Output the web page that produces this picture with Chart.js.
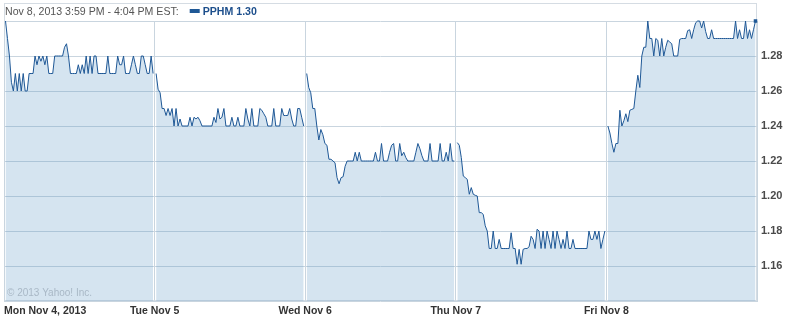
<!DOCTYPE html>
<html>
<head>
<meta charset="utf-8">
<script src="https://cdn.jsdelivr.net/npm/chart.js@4.4.1/dist/chart.umd.min.js"></script>
<style>
  html, body { margin: 0; padding: 0; background: #fff; }
  #wrap { width: 803px; height: 316px; position: relative; }
</style>
</head>
<body>
<div id="wrap"><canvas id="quoteChart"></canvas></div>
<script>
// PPHM intraday, 5 trading days (5-min samples)
const dayLabels = ['Mon Nov 4, 2013', 'Tue Nov 5', 'Wed Nov 6', 'Thu Nov 7', 'Fri Nov 8'];

const mon = [
  1.30, 1.29, 1.28, 1.265, 1.26, 1.27, 1.26, 1.27, 1.26, 1.27,
  1.26, 1.26, 1.27, 1.27, 1.27, 1.28, 1.275, 1.28, 1.277, 1.28,
  1.275, 1.28, 1.27, 1.27, 1.27, 1.28, 1.28, 1.28, 1.28, 1.28,
  1.285, 1.287, 1.28, 1.27, 1.27, 1.27, 1.27, 1.275, 1.27, 1.275,
  1.27, 1.28, 1.27, 1.28, 1.27, 1.28, 1.28, 1.27, 1.27, 1.27,
  1.27, 1.27, 1.28, 1.27, 1.27, 1.27, 1.27, 1.28, 1.275, 1.275,
  1.28, 1.27, 1.27, 1.27, 1.275, 1.28, 1.275, 1.27, 1.27, 1.28,
  1.28, 1.275, 1.27, 1.27, 1.28, 1.27
];
const tue = [
  1.27, 1.261, 1.259, 1.25, 1.25, 1.246, 1.25, 1.246, 1.25, 1.24,
  1.25, 1.24, 1.244, 1.24, 1.24, 1.24, 1.24, 1.245, 1.24, 1.245,
  1.244, 1.245, 1.243, 1.24, 1.24, 1.24, 1.24, 1.24, 1.24, 1.245,
  1.242, 1.25, 1.244, 1.245, 1.25, 1.24, 1.24, 1.24, 1.245, 1.24,
  1.24, 1.245, 1.24, 1.24, 1.24, 1.25, 1.244, 1.24, 1.25, 1.24,
  1.24, 1.24, 1.25, 1.249, 1.247, 1.245, 1.24, 1.24, 1.24, 1.25,
  1.24, 1.24, 1.24, 1.25, 1.246, 1.246, 1.246, 1.25, 1.244, 1.24,
  1.24, 1.25, 1.25, 1.245, 1.24
];
const wed = [
  1.27, 1.262, 1.259, 1.25, 1.25, 1.24, 1.232, 1.238, 1.235, 1.23,
  1.229, 1.221, 1.221, 1.22, 1.219, 1.2105, 1.207, 1.2105, 1.211, 1.217,
  1.22, 1.22, 1.22, 1.22, 1.225, 1.22, 1.225, 1.22, 1.22, 1.22,
  1.22, 1.22, 1.22, 1.22, 1.225, 1.22, 1.22, 1.23, 1.22, 1.22,
  1.22, 1.225, 1.229, 1.23, 1.22, 1.22, 1.23, 1.223, 1.225, 1.222,
  1.22, 1.22, 1.22, 1.22, 1.225, 1.23, 1.227, 1.223, 1.22, 1.22,
  1.22, 1.23, 1.22, 1.22, 1.22, 1.22, 1.23, 1.22, 1.22, 1.225,
  1.22, 1.23, 1.22, 1.22
];
const thu = [
  1.2305, 1.229, 1.222, 1.2114, 1.2105, 1.2095, 1.201, 1.2048, 1.201, 1.2004,
  1.20, 1.1905, 1.1905, 1.1895, 1.183, 1.18, 1.17, 1.17, 1.18, 1.17,
  1.17, 1.1752, 1.17, 1.17, 1.17, 1.17, 1.17, 1.179, 1.17, 1.17,
  1.161, 1.1695, 1.161, 1.1695, 1.17, 1.17, 1.171, 1.177, 1.1752, 1.17,
  1.181, 1.18, 1.17, 1.18, 1.17, 1.18, 1.1752, 1.17, 1.18, 1.17,
  1.18, 1.1752, 1.17, 1.1752, 1.17, 1.18, 1.17, 1.17, 1.1752, 1.17,
  1.17, 1.17, 1.17, 1.17, 1.17, 1.17, 1.18, 1.1752, 1.1752, 1.18,
  1.1752, 1.18, 1.17, 1.1752, 1.18
];
const fri = [
  1.24, 1.236, 1.23, 1.225, 1.23, 1.23, 1.249, 1.24, 1.243, 1.247,
  1.2425, 1.249, 1.2495, 1.25, 1.26, 1.269, 1.262, 1.28, 1.285, 1.285,
  1.30, 1.29, 1.29, 1.28, 1.29, 1.289, 1.28, 1.29, 1.28, 1.285,
  1.289, 1.288, 1.287, 1.28, 1.28, 1.28, 1.2895, 1.29, 1.29, 1.29,
  1.2945, 1.295, 1.29, 1.295, 1.299, 1.30, 1.30, 1.296, 1.30, 1.294,
  1.29, 1.29, 1.295, 1.29, 1.29, 1.29, 1.29, 1.29, 1.29, 1.29,
  1.29, 1.29, 1.29, 1.29, 1.30, 1.29, 1.295, 1.29, 1.29, 1.30,
  1.29, 1.295, 1.29, 1.295, 1.30
];

const yTicks = [1.14, 1.16, 1.18, 1.20, 1.22, 1.24, 1.26, 1.28, 1.30];
const symbol = 'PPHM';
const quoteTime = 'Nov 8, 2013 3:59 PM - 4:04 PM EST:';

const lineColor = '#1f5896';
const gridColor = '#c9d5df';
const fontFamily = '"Liberation Sans", Arial, sans-serif';

// each trading day sits in its own unit on the x axis
function toPoints(values, day) {
  return values.map((v, i) => ({ x: day + 0.01 + i * 0.98 / (values.length - 1), y: v }));
}

const allDays = [mon, tue, wed, thu, fri];
const lastPrice = fri[fri.length - 1];

const datasets = allDays.map((vals, d) => ({
  data: toPoints(vals, d),
  borderColor: lineColor,
  borderWidth: 1,
  backgroundColor: 'rgba(100,155,200,0.27)',
  fill: 'start',
  tension: 0,
  clip: 4,
  pointRadius: ctx => (d === 4 && ctx.dataIndex === vals.length - 1) ? 2.5 : 0,
  pointStyle: 'rect',
  pointBackgroundColor: lineColor,
  pointBorderWidth: 0
}));

const yahooFrame = {
  id: 'yahooFrame',
  beforeDraw(chart) {
    const { ctx, chartArea: a } = chart;
    ctx.save();
    ctx.strokeStyle = '#d5dce3';
    ctx.lineWidth = 1;
    ctx.strokeRect(a.left + 0.5, 3.5, a.right - a.left - 1, a.bottom - 4);
    ctx.restore();
  },
  afterDatasetsDraw(chart) {
    const { ctx, chartArea: a } = chart;
    ctx.save();
    ctx.font = '10px ' + fontFamily;
    ctx.fillStyle = '#a9b8c6';
    ctx.textBaseline = 'alphabetic';
    ctx.fillText('\u00a9 2013 Yahoo! Inc.', a.left + 3, a.bottom - 5);
    ctx.restore();
  },
  afterDraw(chart) {
    const { ctx, chartArea: a } = chart;
    ctx.save();
    ctx.textBaseline = 'alphabetic';
    ctx.font = '10.6px ' + fontFamily;
    ctx.fillStyle = '#555';
    ctx.fillText(quoteTime, a.left + 1, 15);
    const x = a.left + 1 + ctx.measureText(quoteTime).width + 11;
    ctx.fillStyle = lineColor;
    ctx.fillRect(x, 9, 10, 4);
    ctx.font = 'bold 10.6px ' + fontFamily;
    ctx.fillStyle = '#1d4f8c';
    ctx.fillText(symbol + ' ' + lastPrice.toFixed(2), x + 13, 15);
    ctx.restore();
  }
};

new Chart(document.getElementById('quoteChart'), {
  type: 'line',
  data: { datasets: datasets },
  options: {
    responsive: true,
    maintainAspectRatio: false,
    animation: false,
    layout: { padding: { top: 21, left: 2, right: 0, bottom: 0 } },
    plugins: { legend: { display: false }, tooltip: { enabled: false } },
    scales: {
      x: {
        type: 'linear',
        min: 0,
        max: 5,
        afterBuildTicks: scale => { scale.ticks = [0, 1, 2, 3, 4, 5].map(v => ({ value: v })); },
        afterFit: scale => { scale.height = 15; },
        grid: { color: gridColor, drawTicks: false },
        border: { display: false },
        ticks: {
          align: 'inner',
          autoSkip: false,
          maxRotation: 0,
          padding: 4,
          color: '#333',
          font: { family: fontFamily, size: 10.5, weight: 'bold' },
          callback: v => dayLabels[v] || ''
        }
      },
      y: {
        position: 'right',
        min: 1.14,
        max: 1.30,
        afterBuildTicks: scale => { scale.ticks = yTicks.map(v => ({ value: v })); },
        afterFit: scale => { scale.width = 46; },
        grid: { color: gridColor, drawTicks: false },
        border: { color: gridColor },
        ticks: {
          padding: 4,
          color: '#4a4a4a',
          font: { family: fontFamily, size: 11, weight: 'bold' },
          callback: (v, i, t) => (i === 0 || i === t.length - 1) ? '' : v.toFixed(2)
        }
      }
    }
  },
  plugins: [yahooFrame]
});
</script>
</body>
</html>
